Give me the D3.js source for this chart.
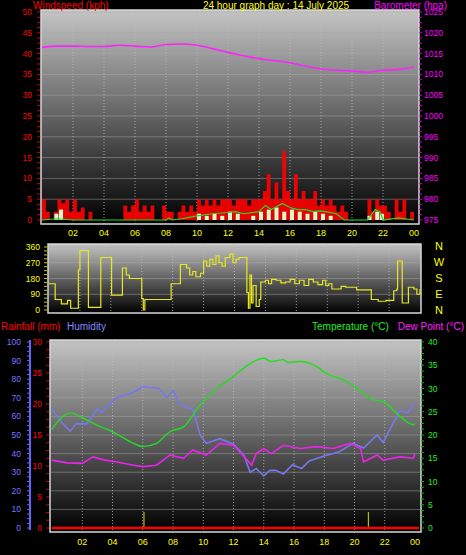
<!DOCTYPE html><html><head><meta charset="utf-8">
<script src="https://cdn.jsdelivr.net/npm/d3@7"></script>
<style>body{margin:0;background:#000}svg{display:block}text{font-family:"Liberation Sans",Arial,sans-serif}</style></head><body>
<svg id="c" width="466" height="555"></svg>
<script>
const hourLabels=["02","04","06","08","10","12","14","16","18","20","22","00"];
const windSpeed=[5,2,0,2,5,4,5,2,5,2,3,0,2,0,0,0,0,0,0,0,0,3.5,2,3.5,5,2,3.5,2,3.5,0,0,3.5,2,2,0,2,3.5,2,3.5,2,5,3.5,5,3.5,5,3.5,5,5,5,3.5,5,5,5,3.5,5,5,5,7,11,5,9,5,16.5,7,5,11,5,7,5,5,7,3.5,5,3.5,5,3.5,2,3.5,2,0,0,0,0,0,5,2,5,3.5,3.5,2,0,5,2,5,0,2,2];
const windAvgPts=[[0,0],[1,0.3],[2,0],[8,0],[8.2,0.5],[8.4,0],[9,0.3],[10,1],[11,1.5],[12,1.8],[12.5,2],[13,1.5],[14,2],[14.4,3.5],[14.8,2.5],[15.5,4],[16,3],[16.5,2.5],[17,2.5],[17.5,2],[18,2.2],[19,1.5],[19.5,0],[21,0],[21.5,2.5],[21.8,2],[22,0],[23,0.5],[24,0]];
const windBars=[[0.8,1.5],[1.1,2.5],[10,1.5],[10.5,1],[11,1.5],[11.5,1],[12,2],[12.5,1.5],[13.5,1],[14,2],[14.5,2.5],[15,3],[15.5,2],[16,2.5],[16.5,2],[17,1.5],[17.5,2],[18,1.5],[18.5,1],[21,1],[21.5,2],[21.8,1.5]];
const baro=[1016.5,1016.8,1016.8,1016.7,1016.7,1017,1016.8,1016.6,1017.2,1017.3,1017,1016.2,1015.3,1014.5,1013.8,1013.3,1012.8,1012,1011.3,1011,1010.8,1010.5,1011,1011.2,1011.8];
const windDir=[[0,150],[0.4,60],[0.8,35],[1.2,55],[1.4,10],[1.9,230],[2,340],[2.5,340],[2.55,15],[3.3,15],[3.35,300],[4,300],[4.05,85],[4.7,85],[4.75,240],[5,200],[5.2,180],[5.9,180],[6,65],[6.1,0],[6.2,60],[7.8,60],[7.9,150],[8.5,260],[8.9,240],[9.1,200],[9.3,220],[9.5,190],[9.8,210],[10,280],[10.2,250],[10.4,290],[10.6,260],[10.8,310],[11,270],[11.2,250],[11.4,300],[11.7,320],[11.9,270],[12.1,290],[12.3,300],[12.6,300],[12.8,100],[12.9,10],[13,200],[13.1,40],[13.2,140],[13.4,20],[13.6,60],[13.7,160],[14,170],[14.2,150],[14.4,175],[14.7,170],[15,155],[15.3,160],[15.6,175],[15.9,150],[16.2,170],[16.5,140],[16.8,175],[17.1,160],[17.4,145],[17.7,170],[17.9,140],[18.1,150],[18.3,120],[18.6,120],[18.9,135],[19.2,130],[19.7,130],[19.9,115],[20.8,115],[20.85,60],[21.3,50],[21.8,55],[22.3,110],[22.5,120],[22.55,280],[22.8,280],[22.85,40],[23.2,40],[23.25,130],[23.6,120],[23.8,90],[24,120]];
const temp=[[0,21.3],[1.2,24.7],[2.3,23.2],[3.2,21.8],[4,20.7],[5.4,18.2],[6,17.5],[6.9,18.2],[7.8,20.7],[8.7,21.8],[9.8,26.5],[10.9,30],[12,32.6],[12.8,34.7],[14,36.5],[14.5,35.8],[15.3,36.2],[15.6,35.6],[16.4,35.8],[17.5,34.7],[18.1,33.3],[19.5,31.5],[20.4,29.4],[21.2,27.6],[21.9,27.2],[23,24],[23.9,22.2],[24,22.5]];
const humidity=[[0,64],[0.5,58],[1.2,52],[1.6,56],[2.3,56],[3,64],[3.3,62],[3.8,67],[4.3,70],[5.4,73],[6,76],[7.1,75],[7.6,70],[8,74],[8.5,66],[9.3,64],[9.8,50],[10.2,45.5],[11.1,48],[12,45],[12.7,39],[13.1,30],[13.5,32],[14,28],[14.4,31],[14.8,31],[15.3,29],[15.9,34],[16.5,32],[17,36],[18.1,39],[19,41],[19.9,45.5],[20.6,43],[21.5,50],[21.9,46],[22.6,57],[23,63],[23.5,62],[24,67]];
const dewPoint=[[0,14.6],[1,14],[2,13.9],[2.7,15.3],[3.5,14.6],[4.3,14.2],[5.4,13.5],[6,13.2],[6.9,13.5],[7.8,15.7],[8.7,15],[9.3,16.8],[10.2,15.7],[11.1,18.2],[12,17.8],[12.8,15],[13.2,13.5],[13.5,16],[14,17.1],[14.5,16],[15.3,17.8],[16.4,17.1],[17.5,17.5],[18.6,17.1],[19.7,18.2],[20.4,17.1],[20.6,14.2],[21.5,15.7],[21.9,14.6],[23,15.3],[23.9,15],[24,16]];
const rainMarks=[6.08,20.92];

const svg=d3.select("#c");
const defs=svg.append("defs");
const g=defs.append("linearGradient").attr("id","bg").attr("x1",0).attr("y1",0).attr("x2",0).attr("y2",1);
g.append("stop").attr("offset",0).attr("stop-color","#c4c4c4");
g.append("stop").attr("offset",1).attr("stop-color","#000");
function panel(x0,x1,y0,y1){
  svg.append("rect").attr("x",x0).attr("y",y0).attr("width",x1-x0).attr("height",y1-y0).attr("fill","url(#bg)").attr("stroke","#d8d8d8").attr("stroke-width",1.5);
}
function grid(x,y,yt,x0,x1,y0,y1){
  [2,4,6,8,10,12,14,16,18,20,22].forEach(h=>svg.append("line").attr("x1",x(h)).attr("x2",x(h)).attr("y1",y0).attr("y2",y1).attr("stroke","#bbb").attr("stroke-dasharray","1,2").attr("stroke-width",0.8));
  yt.forEach(v=>svg.append("line").attr("x1",x0).attr("x2",x1).attr("y1",y(v)).attr("y2",y(v)).attr("stroke","#aaa").attr("stroke-opacity",0.6).attr("stroke-width",0.8));
}
function txt(x,y,s,c,sz,anch){return svg.append("text").attr("x",x).attr("y",y).attr("fill",c).attr("font-size",sz).attr("text-anchor",anch||"start").text(s);}
function xlabels(x,y){hourLabels.forEach((l,i)=>txt(x(2*(i+1)),y,l,"#ffff00",9,"middle"));}
function yaxis(scale,xpos,vals,color,side){
  vals.forEach(v=>txt(side<0?xpos-4:xpos+4,scale(v)+3,v,color,8.5,side<0?"end":"start"));
}
// ---- Top panel
const xT=d3.scaleLinear([0,24],[42,414]);
const yW=d3.scaleLinear([0,50],[220,12]);
const yB=d3.scaleLinear([975,1025],[220,12]);
panel(41,419,10,224);
grid(xT,yW,d3.range(5,51,5),41,419,10,224);
const wt=windSpeed.map((v,i)=>[i*0.25,v]);
svg.append("path").datum(wt).attr("d",d3.area().curve(d3.curveStepAfter).x(d=>xT(d[0])).y0(yW(0)).y1(d=>yW(d[1]))).attr("fill","#ff0000").attr("fill-opacity",0.9);
windBars.forEach(d=>svg.append("rect").attr("x",xT(d[0])).attr("width",4).attr("y",yW(d[1])).attr("height",yW(0)-yW(d[1])).attr("fill","#d8f8d0"));
svg.append("path").datum(windAvgPts).attr("d",d3.line().x(d=>xT(d[0])).y(d=>yW(d[1]))).attr("fill","none").attr("stroke","#22dd22").attr("stroke-width",1.2);
svg.append("path").datum(baro).attr("d",d3.line().curve(d3.curveMonotoneX).x((d,i)=>xT(i)).y(d=>yB(d))).attr("fill","none").attr("stroke","#ff22ff").attr("stroke-width",1.6);
yaxis(yW,36,d3.range(0,51,5),"#ff0000",-1);
d3.range(0,51,1.25).forEach(v=>svg.append("line").attr("x1",37).attr("x2",40).attr("y1",yW(v)).attr("y2",yW(v)).attr("stroke","#cc0000"));
d3.range(975,1026,1.25).forEach(v=>svg.append("line").attr("x1",419).attr("x2",422).attr("y1",yB(v)).attr("y2",yB(v)).attr("stroke","#cc00cc"));
yaxis(yB,420,d3.range(975,1026,5),"#ff00ff",1);
xlabels(xT,236);
txt(33,9,"Windspeed (kph)","#ff0000",10);
txt(276,9,"24 hour graph day : 14 July 2025","#ffff00",10,"middle");
txt(447,9,"Barometer (hpa)","#ff00ff",10,"end");
// ---- Middle
const xM=d3.scaleLinear([0,24],[49,420]);
const yD=d3.scaleLinear([0,360],[310,247]);
panel(48,421,244,313);
grid(xM,yD,[90,180,270,360],48,421,244,313);
svg.append("path").datum(windDir).attr("d",d3.line().curve(d3.curveStepAfter).x(d=>xM(d[0])).y(d=>yD(d[1]))).attr("fill","none").attr("stroke","#e8e820").attr("stroke-width",1.2);
yaxis(yD,44,[0,90,180,270,360],"#ffff00",-1);
d3.range(0,361,22.5).forEach(v=>svg.append("line").attr("x1",44).attr("x2",47).attr("y1",yD(v)).attr("y2",yD(v)).attr("stroke","#cccc00"));
["N","W","S","E","N"].forEach((s,i)=>txt(439,[250,266,282,298,314][i],s,"#ffff00",11,"middle"));
// ---- Bottom
const xB=d3.scaleLinear([0,24],[52,415]);
const yTp=d3.scaleLinear([0,40],[528,342]);
const yH=d3.scaleLinear([0,100],[528,342]);
const yR=d3.scaleLinear([0,30],[528,342]);
panel(50,421,340,532);
grid(xB,yH,d3.range(10,101,10),50,421,340,532);
rainMarks.forEach(h=>svg.append("line").attr("x1",xB(h)).attr("x2",xB(h)).attr("y1",512).attr("y2",528).attr("stroke","#bbbb00").attr("stroke-width",1.2));
svg.append("line").attr("x1",52).attr("x2",419).attr("y1",yR(0)).attr("y2",yR(0)).attr("stroke","#ff0000").attr("stroke-width",2.5);
const ln=s=>d3.line().x(d=>xB(d[0])).y(d=>s(d[1]));
svg.append("path").datum(humidity).attr("d",ln(yH)).attr("fill","none").attr("stroke","#7777ee").attr("stroke-width",1.6);
svg.append("path").datum(dewPoint).attr("d",ln(yTp)).attr("fill","none").attr("stroke","#ee22ee").attr("stroke-width",1.6);
svg.append("path").datum(temp).attr("d",ln(yTp).curve(d3.curveMonotoneX)).attr("fill","none").attr("stroke","#22dd22").attr("stroke-width",1.4);
svg.append("line").attr("x1",30).attr("x2",30).attr("y1",340).attr("y2",530).attr("stroke","#6666ff").attr("stroke-width",2);
d3.range(0,101,2.5).forEach(v=>svg.append("line").attr("x1",27).attr("x2",30).attr("y1",yH(v)).attr("y2",yH(v)).attr("stroke","#6666ff"));
yaxis(yH,25,d3.range(0,101,10),"#7777ff",-1);
d3.range(0,31,1.25).forEach(v=>svg.append("line").attr("x1",46).attr("x2",49).attr("y1",yR(v)).attr("y2",yR(v)).attr("stroke","#cc0000"));
yaxis(yR,46,d3.range(0,31,5),"#ff0000",-1);
d3.range(0,41,1.25).forEach(v=>svg.append("line").attr("x1",421).attr("x2",424).attr("y1",yTp(v)).attr("y2",yTp(v)).attr("stroke","#00bb00"));
yaxis(yTp,424,d3.range(0,41,5),"#22ee22",1);
xlabels(xB,545);
txt(1,330,"Rainfall (mm)","#ff0000",10);
txt(67,330,"Humidity","#8888ff",10);
txt(312,330,"Temperature (°C)","#22ee22",10);
txt(464,330,"Dew Point (°C)","#ff22ff",10,"end");
</script></body></html>
